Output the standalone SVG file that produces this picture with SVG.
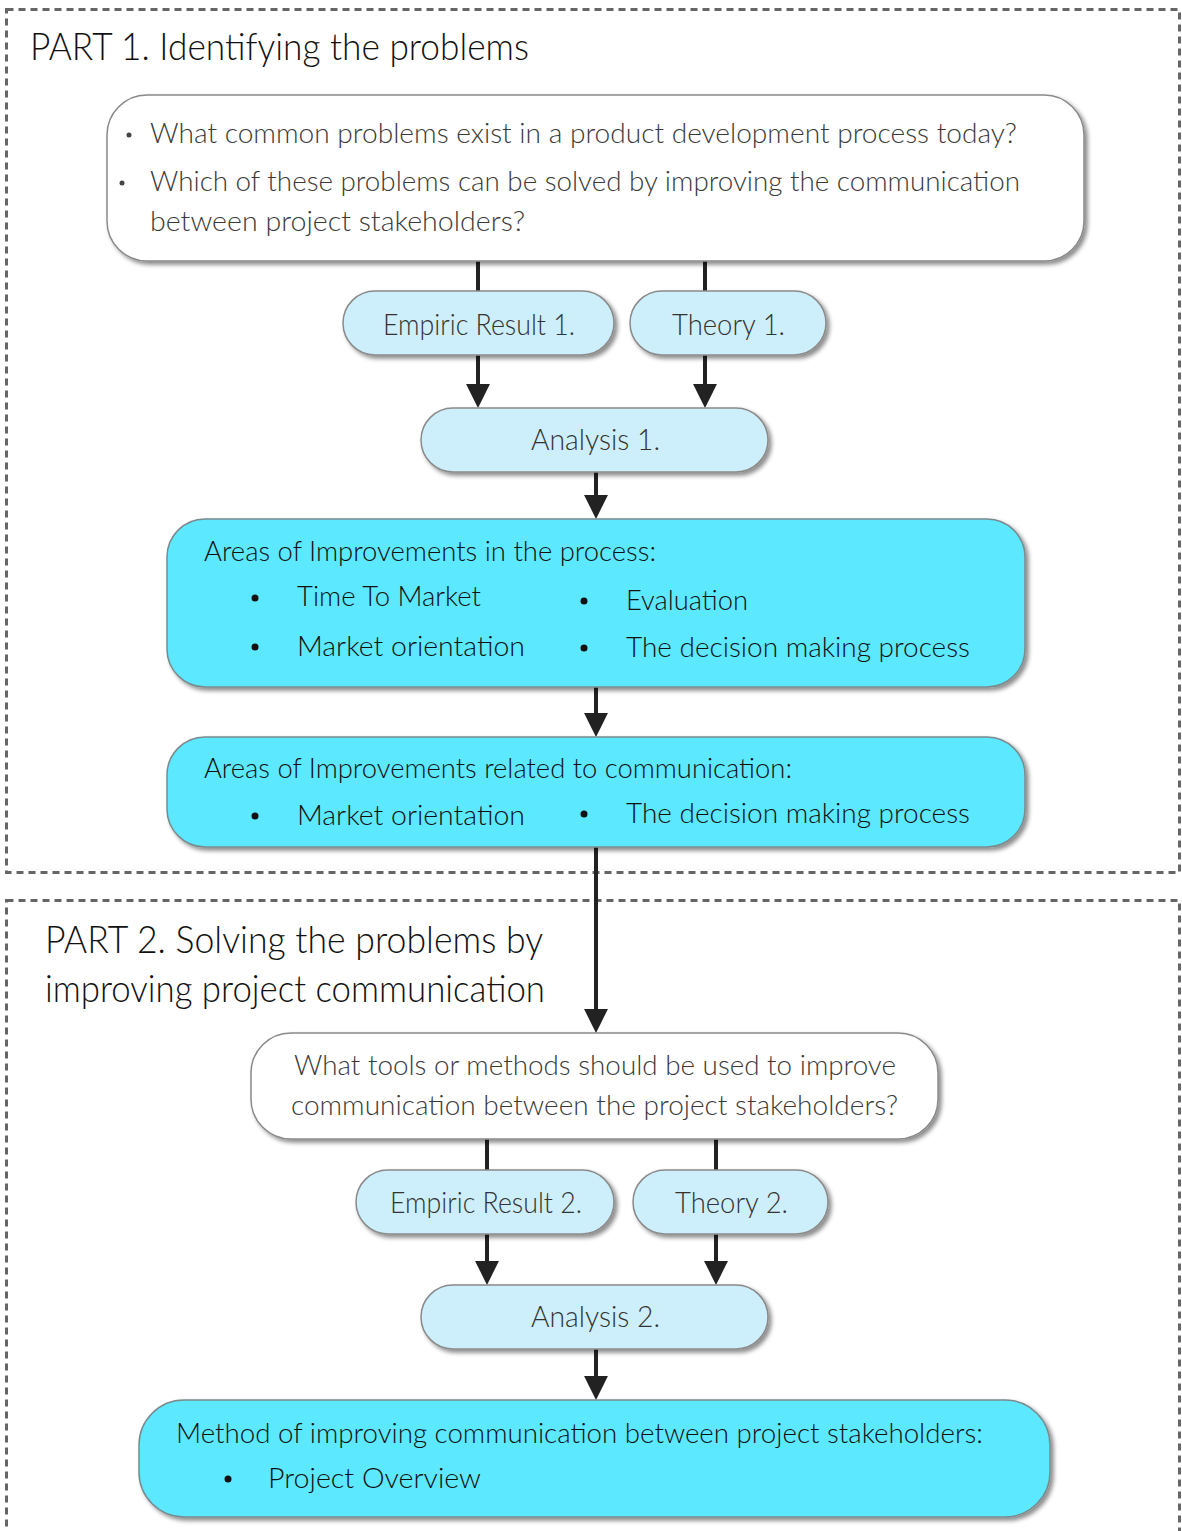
<svg xmlns="http://www.w3.org/2000/svg" width="1182" height="1531" viewBox="0 0 1182 1531">
  <defs>
    <filter id="shadow" x="-10%" y="-20%" width="120%" height="150%">
      <feDropShadow dx="3" dy="3" stdDeviation="2" flood-color="#000" flood-opacity="0.45"/>
    </filter>
    <marker id="arrow" markerUnits="userSpaceOnUse" markerWidth="24" markerHeight="24" viewBox="0 0 22 22" refX="12" refY="11" orient="auto">
      <path d="M0,0 L22,11 L0,22 z" fill="#222"/>
    </marker>
  </defs>
  <style>
    text { font-family: "Lato", "Open Sans", "Liberation Sans", sans-serif; font-weight: 300; }
    .frame { fill: none; stroke: #666; stroke-width: 3; stroke-dasharray: 7 5; }
    .title { font-size: 38px; fill: #111; }
    .question { fill: #fff; stroke: #8a8a8a; stroke-width: 1.5; filter: url(#shadow); }
    .pill { fill: #cdeffb; stroke: #8a8a8a; stroke-width: 1.5; filter: url(#shadow); }
    .area { fill: #5ce8ff; stroke: #7a8a8e; stroke-width: 1.5; filter: url(#shadow); }
    .qtext { font-size: 27px; fill: #3a3a3a; }
    .ptext { font-size: 29px; fill: #333; }
    .atext { font-size: 28px; fill: #111; }
    .dot { fill: #111; }
    .qdot { fill: #444; }
    .link { fill: none; stroke: #222; stroke-width: 4; }
    .link-arrow { fill: none; stroke: #222; stroke-width: 4; marker-end: url(#arrow); }
  </style>

  <!-- section frames -->
  <g id="part1-frame">
    <rect class="frame" x="6.5" y="9.5" width="1173" height="863"/>
    <text class="title" x="30" y="60" textLength="499" lengthAdjust="spacingAndGlyphs">PART 1. Identifying the problems</text>
  </g>
  <g id="part2-frame">
    <rect class="frame" x="6.5" y="900.5" width="1173" height="700"/>
    <text class="title" x="45" y="953" textLength="498" lengthAdjust="spacingAndGlyphs">PART 2. Solving the problems by</text>
    <text class="title" x="45" y="1002" textLength="500" lengthAdjust="spacingAndGlyphs">improving project communication</text>
  </g>

  <!-- connectors -->
  <g id="connectors">
    <line class="link" x1="478" y1="261" x2="478" y2="292"/>
    <line class="link" x1="705" y1="261" x2="705" y2="292"/>
    <line class="link-arrow" x1="478" y1="355" x2="478" y2="397"/>
    <line class="link-arrow" x1="705" y1="355" x2="705" y2="397"/>
    <line class="link-arrow" x1="596" y1="472" x2="596" y2="508"/>
    <line class="link-arrow" x1="596" y1="687" x2="596" y2="726"/>
    <line class="link-arrow" x1="596" y1="847" x2="596" y2="1022"/>
    <line class="link" x1="487" y1="1139" x2="487" y2="1171"/>
    <line class="link" x1="716" y1="1139" x2="716" y2="1171"/>
    <line class="link-arrow" x1="487" y1="1234" x2="487" y2="1274"/>
    <line class="link-arrow" x1="716" y1="1234" x2="716" y2="1274"/>
    <line class="link-arrow" x1="596" y1="1349" x2="596" y2="1389"/>
  </g>

  <!-- part 1 nodes -->
  <g id="question1">
    <rect class="question" x="107" y="95" width="977" height="166" rx="40"/>
    <circle class="qdot" cx="129" cy="135" r="2.5"/>
    <text class="qtext" x="150" y="143" textLength="867" lengthAdjust="spacingAndGlyphs">What common problems exist in a product development process today?</text>
    <circle class="qdot" cx="122" cy="183" r="2.5"/>
    <text class="qtext" x="150" y="191" textLength="870" lengthAdjust="spacingAndGlyphs">Which of these problems can be solved by improving the communication</text>
    <text class="qtext" x="150" y="231" textLength="375" lengthAdjust="spacingAndGlyphs">between project stakeholders?</text>
  </g>
  <g id="empiric1">
    <rect class="pill" x="343" y="291" width="271" height="64" rx="32"/>
    <text class="ptext" x="383" y="335" textLength="192" lengthAdjust="spacingAndGlyphs">Empiric Result 1.</text>
  </g>
  <g id="theory1">
    <rect class="pill" x="630" y="291" width="196" height="64" rx="32"/>
    <text class="ptext" x="672" y="335" textLength="113" lengthAdjust="spacingAndGlyphs">Theory 1.</text>
  </g>
  <g id="analysis1">
    <rect class="pill" x="421" y="408" width="347" height="64" rx="32"/>
    <text class="ptext" x="531" y="450" textLength="129" lengthAdjust="spacingAndGlyphs">Analysis 1.</text>
  </g>
  <g id="areas-process">
    <rect class="area" x="167" y="519" width="858" height="168" rx="38"/>
    <text class="atext" x="204" y="561" textLength="452" lengthAdjust="spacingAndGlyphs">Areas of Improvements in the process:</text>
    <circle class="dot" cx="255" cy="598" r="3.5"/>
    <text class="atext" x="297" y="606" textLength="184" lengthAdjust="spacingAndGlyphs">Time To Market</text>
    <circle class="dot" cx="255" cy="647" r="3.5"/>
    <text class="atext" x="297" y="656" textLength="228" lengthAdjust="spacingAndGlyphs">Market orientation</text>
    <circle class="dot" cx="584" cy="601" r="3.5"/>
    <text class="atext" x="626" y="610" textLength="122" lengthAdjust="spacingAndGlyphs">Evaluation</text>
    <circle class="dot" cx="584" cy="648" r="3.5"/>
    <text class="atext" x="626" y="657" textLength="344" lengthAdjust="spacingAndGlyphs">The decision making process</text>
  </g>
  <g id="areas-communication">
    <rect class="area" x="167" y="737" width="858" height="110" rx="38"/>
    <text class="atext" x="204" y="778" textLength="588" lengthAdjust="spacingAndGlyphs">Areas of Improvements related to communication:</text>
    <circle class="dot" cx="255" cy="816" r="3.5"/>
    <text class="atext" x="297" y="825" textLength="228" lengthAdjust="spacingAndGlyphs">Market orientation</text>
    <circle class="dot" cx="584" cy="814" r="3.5"/>
    <text class="atext" x="626" y="823" textLength="344" lengthAdjust="spacingAndGlyphs">The decision making process</text>
  </g>

  <!-- part 2 nodes -->
  <g id="question2">
    <rect class="question" x="251" y="1033" width="687" height="106" rx="40"/>
    <text class="qtext" x="294" y="1075" textLength="602" lengthAdjust="spacingAndGlyphs">What tools or methods should be used to improve</text>
    <text class="qtext" x="291" y="1115" textLength="607" lengthAdjust="spacingAndGlyphs">communication between the project stakeholders?</text>
  </g>
  <g id="empiric2">
    <rect class="pill" x="356" y="1170" width="258" height="64" rx="32"/>
    <text class="ptext" x="390" y="1213" textLength="192" lengthAdjust="spacingAndGlyphs">Empiric Result 2.</text>
  </g>
  <g id="theory2">
    <rect class="pill" x="633" y="1170" width="195" height="64" rx="32"/>
    <text class="ptext" x="675" y="1213" textLength="113" lengthAdjust="spacingAndGlyphs">Theory 2.</text>
  </g>
  <g id="analysis2">
    <rect class="pill" x="421" y="1285" width="347" height="64" rx="32"/>
    <text class="ptext" x="531" y="1327" textLength="129" lengthAdjust="spacingAndGlyphs">Analysis 2.</text>
  </g>
  <g id="method">
    <rect class="area" x="139" y="1400" width="911" height="117" rx="45"/>
    <text class="atext" x="176" y="1443" textLength="807" lengthAdjust="spacingAndGlyphs">Method of improving communication between project stakeholders:</text>
    <circle class="dot" cx="228" cy="1479" r="3.5"/>
    <text class="atext" x="268" y="1488" textLength="213" lengthAdjust="spacingAndGlyphs">Project Overview</text>
  </g>
</svg>
